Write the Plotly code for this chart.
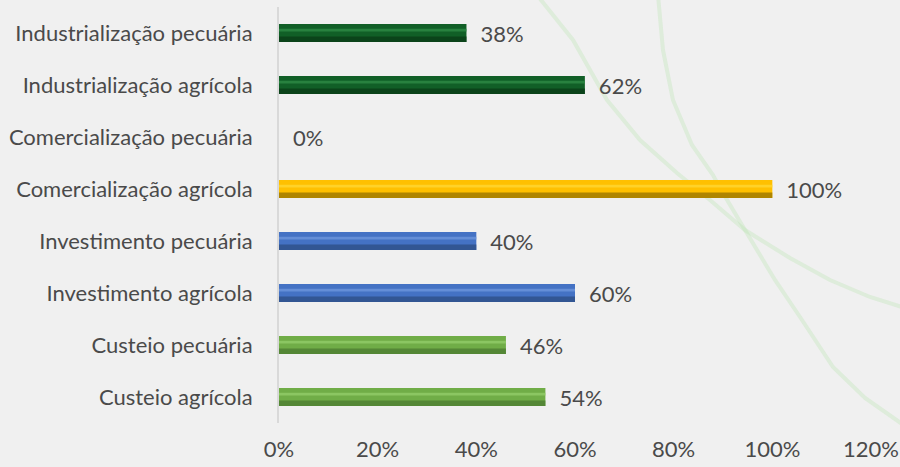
import plotly.graph_objects as go

categories = [
    "Custeio agrícola",
    "Custeio pecuária",
    "Investimento agrícola",
    "Investimento pecuária",
    "Comercialização agrícola",
    "Comercialização pecuária",
    "Industrialização agrícola",
    "Industrialização pecuária",
]
values = [0.54, 0.46, 0.60, 0.40, 1.00, 0.00, 0.62, 0.38]

base_colors = ["#70ad47", "#70ad47", "#4472c4", "#4472c4", "#ffc000", "#ffc000", "#115f27", "#115f27"]
dark_colors = ["#4e7d33", "#4e7d33", "#2f4f88", "#2f4f88", "#9c7600", "#9c7600", "#0a3d18", "#0a3d18"]
light_colors = ["#93cc6a", "#93cc6a", "#6d95dd", "#6d95dd", "#ffd633", "#ffd633", "#2f8a47", "#2f8a47"]

x_ticks = [0, 0.2, 0.4, 0.6, 0.8, 1.0, 1.2]
x_tick_text = ["0%", "20%", "40%", "60%", "80%", "100%", "120%"]

labels = ["\u2002" + f"{round(v*100)}%" for v in values]

font_family = "Lato, 'Open Sans', sans-serif"
text_color = "#4a4a4a"

W, H = 900, 467
ML, MR, MT, MB = 279, 29, 7, 44

# decorative background curves (page pixels -> paper fractions)
curve_a_px = [(658, -5), (663, 50), (673, 100), (692, 145), (713, 175), (720, 188), (745, 230),
              (775, 280), (800, 317), (833, 367), (865, 398), (905, 426)]
curve_b_px = [(537, -5), (573, 40), (607, 100), (640, 140), (677, 173), (710, 200), (745, 230),
              (790, 258), (830, 280), (870, 297), (905, 308)]


def to_path(points):
    pw, ph = W - ML - MR, H - MT - MB
    pts = [((px - ML) / pw, (H - MB - py) / ph) for px, py in points]
    return "M " + " L ".join(f"{x:.4f} {y:.4f}" for x, y in pts)


fig = go.Figure()

# main bar body
fig.add_trace(go.Bar(
    y=categories, x=values, orientation="h",
    width=0.35,
    marker=dict(color=base_colors, line=dict(width=0)),
    text=labels, textposition="outside", cliponaxis=False,
    constraintext="none",
    textfont=dict(family=font_family, size=22, color=text_color),
    hoverinfo="skip",
))
# darker lower part (bevel shading)
fig.add_trace(go.Bar(
    y=categories, x=values, orientation="h",
    width=0.11, offset=-0.175,
    marker=dict(color=dark_colors, line=dict(width=0)),
    opacity=0.8,
    hoverinfo="skip",
))
# highlight stripe
fig.add_trace(go.Bar(
    y=categories, x=values, orientation="h",
    width=0.05, offset=0.03,
    marker=dict(color=light_colors, line=dict(width=0)),
    opacity=0.8,
    hoverinfo="skip",
))

curve_style = dict(color="rgba(185,228,175,0.32)", width=4)
fig.update_layout(
    width=W, height=H,
    margin=dict(l=ML, r=MR, t=MT, b=MB, autoexpand=False),
    paper_bgcolor="#f0f0f0",
    plot_bgcolor="rgba(0,0,0,0)",
    barmode="overlay",
    showlegend=False,
    font=dict(family=font_family, size=22, color=text_color),
    shapes=[
        dict(type="path", xref="paper", yref="paper", layer="below",
             path=to_path(curve_a_px), line=curve_style),
        dict(type="path", xref="paper", yref="paper", layer="below",
             path=to_path(curve_b_px), line=curve_style),
    ],
)

fig.update_xaxes(
    range=[0, 1.2],
    tickvals=x_ticks, ticktext=x_tick_text,
    showgrid=False, zeroline=False, showline=False,
    ticks="", ticklabelstandoff=11, automargin=False,
    tickfont=dict(family=font_family, size=22, color=text_color),
)
fig.update_yaxes(
    categoryorder="array", categoryarray=categories,
    showgrid=False, zeroline=False,
    showline=True, linecolor="#d9d9d9", linewidth=2,
    ticks="", ticklabelstandoff=20, automargin=False,
    tickfont=dict(family=font_family, size=22, color=text_color),
)

fig.write_html("out.html", config={"displayModeBar": False},
               post_script="document.body.style.margin='0';")
